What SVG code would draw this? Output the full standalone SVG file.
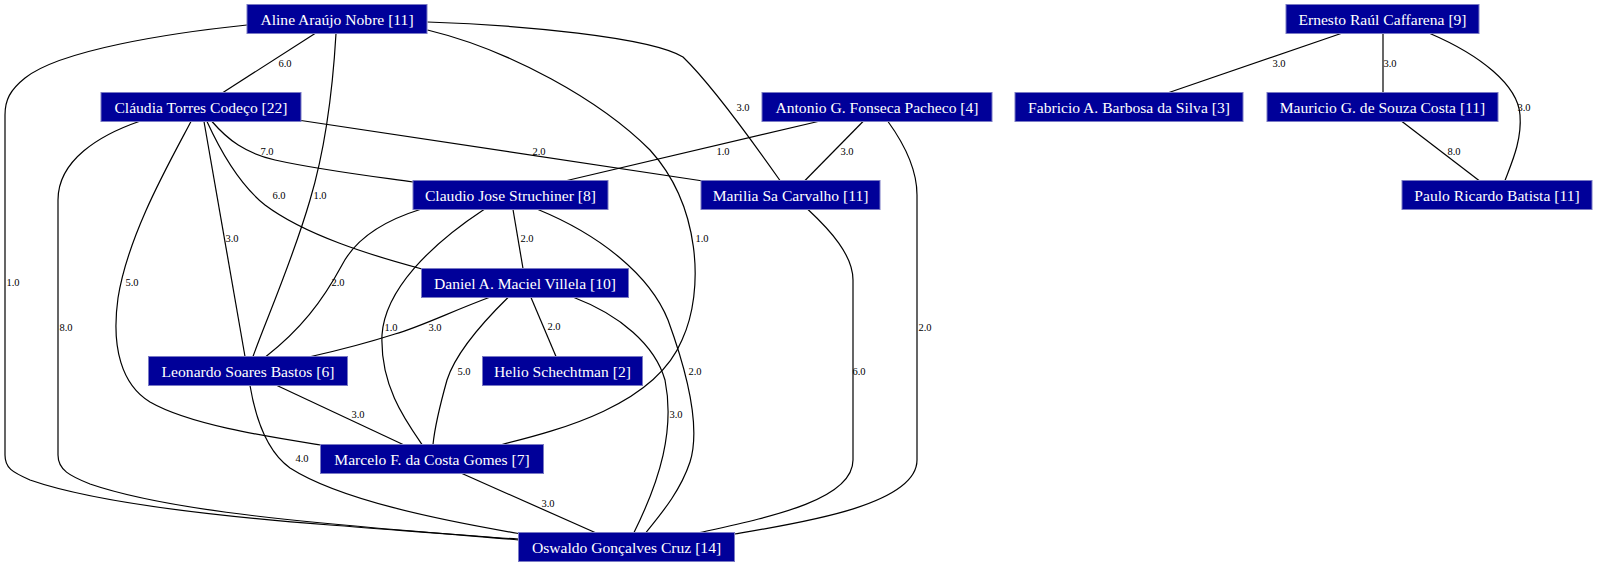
<svg xmlns="http://www.w3.org/2000/svg" width="1597" height="567" viewBox="0 0 1597 567">
<style>
.n rect{fill:#000099;stroke:#7a7ac4;stroke-width:1}
.n text{fill:#ffffff;font-family:"Liberation Serif","DejaVu Serif",serif;font-size:15.6px;text-anchor:middle}
.e path{fill:none;stroke:#000;stroke-width:1.2}
.e text{fill:#000;font-family:"Liberation Serif","DejaVu Serif",serif;font-size:10.5px;text-anchor:middle}
</style>
<rect width="1597" height="567" fill="#fff"/>
<g id="edges" class="e">
<path d="M315,33.5 L223,92.5"/><text x="285" y="67">6.0</text>
<path d="M336,33.5 C333,85 325,150 310,200 C292,262 266,320 253,356.5"/><text x="320" y="198.5">1.0</text>
<path d="M247,25 C170,33 60,50 25,78 C10,90 5,100 5,115 L5,455 C5,468 12,472 30,480 C90,501 200,515 330,525 C420,532 490,537 518.5,540"/><text x="13" y="286">1.0</text>
<path d="M427.5,22 C520,25 650,37 683,57 C712,85 755,145 780,180.5"/><text x="743" y="110.5">3.0</text>
<path d="M427.5,30 C510,50 600,100 650,150 C700,205 705,290 682,340 C655,405 560,430 502,444.5"/><text x="702" y="241.5">1.0</text>
<path d="M212,121.5 C228,140 245,153 275,160 C320,170 370,176 413,182"/><text x="267" y="154.5">7.0</text>
<path d="M301,120.5 L703,181"/><text x="539" y="154.5">2.0</text>
<path d="M207,121.5 C220,150 240,185 265,205 C305,235 370,255 422,269"/><text x="279" y="198.5">6.0</text>
<path d="M204,121.5 L245,356.5"/><text x="232" y="241.5">3.0</text>
<path d="M191,121.5 C168,165 128,235 118,298 C111,348 122,385 150,402 C190,425 270,437 320.5,445"/><text x="132" y="286">5.0</text>
<path d="M139,121.5 C100,135 58,160 58,200 L58,455 C58,470 70,476 90,484 C160,508 280,520 400,530 C460,535 500,538 518.5,539"/><text x="66" y="330.5">8.0</text>
<path d="M818,121.5 L567,180.5"/><text x="723" y="154.5">1.0</text>
<path d="M863,121.5 L805,180.5"/><text x="847" y="154.5">3.0</text>
<path d="M888,121.5 C905,145 917,170 917,195 L917,460 C917,505 800,523 734.5,534"/><text x="925" y="330.5">2.0</text>
<path d="M1341,33.5 L1169,92.5"/><text x="1279" y="66.5">3.0</text>
<path d="M1383,33.5 L1383,92.5"/><text x="1390" y="66.5">3.0</text>
<path d="M1430,33.5 C1480,55 1518,85 1520,115 C1522,140 1512,162 1505,180.5"/><text x="1524" y="110.5">3.0</text>
<path d="M1402,121.5 L1479,180.5"/><text x="1454" y="154.5">8.0</text>
<path d="M513,209.5 L523,268.5"/><text x="527" y="241.5">2.0</text>
<path d="M420,209.5 C380,222 355,240 342,265 C322,302 300,330 266,356.5"/><text x="338" y="286">2.0</text>
<path d="M484,209.5 C430,245 385,290 382,335 C380,385 405,420 422,444.5"/><text x="391" y="330.5">1.0</text>
<path d="M538,209.5 C600,235 650,275 668,320 C690,380 700,430 690,462 C680,492 660,515 646,532.5"/><text x="695" y="374.5">2.0</text>
<path d="M808,209.5 C830,230 853,255 853,280 L853,460 C853,500 770,517 700,532.5"/><text x="859" y="374.5">6.0</text>
<path d="M489,297.5 C450,312 420,327 395,334 C370,342 340,350 311,356.5"/><text x="435" y="330.5">3.0</text>
<path d="M531,297.5 L556,356.5"/><text x="554" y="330">2.0</text>
<path d="M508,297.5 C480,325 455,355 447,380 C440,405 435,425 433,444.5"/><text x="464" y="374.5">5.0</text>
<path d="M574,297.5 C620,315 655,345 665,380 C675,430 660,480 634,532.5"/><text x="676" y="417.5">3.0</text>
<path d="M277,385.5 L403,444.5"/><text x="358" y="417.5">3.0</text>
<path d="M250,385.5 C255,415 265,450 290,468 C340,500 440,520 518.5,533.5"/><text x="302" y="461.5">4.0</text>
<path d="M462,473.5 L595,532.5"/><text x="548" y="506.5">3.0</text>
</g>
<g id="aline" class="n"><rect x="247" y="4.5" width="180" height="29"/><text x="337" y="24.5">Aline Araújo Nobre [11]</text></g>
<g id="ernesto" class="n"><rect x="1286" y="4.5" width="193" height="29"/><text x="1382.5" y="24.5">Ernesto Raúl Caffarena [9]</text></g>
<g id="claudia" class="n"><rect x="101" y="92.5" width="200" height="29"/><text x="201" y="112.5">Cláudia Torres Codeço [22]</text></g>
<g id="antonio" class="n"><rect x="762" y="92.5" width="230" height="29"/><text x="877" y="112.5">Antonio G. Fonseca Pacheco [4]</text></g>
<g id="fabricio" class="n"><rect x="1015" y="92.5" width="228" height="29"/><text x="1129" y="112.5">Fabricio A. Barbosa da Silva [3]</text></g>
<g id="mauricio" class="n"><rect x="1267" y="92.5" width="231" height="29"/><text x="1382.5" y="112.5">Mauricio G. de Souza Costa [11]</text></g>
<g id="claudio" class="n"><rect x="413" y="180.5" width="195" height="29"/><text x="510.5" y="200.5">Claudio Jose Struchiner [8]</text></g>
<g id="marilia" class="n"><rect x="701" y="180.5" width="179" height="29"/><text x="790.5" y="200.5">Marilia Sa Carvalho [11]</text></g>
<g id="paulo" class="n"><rect x="1402" y="180.5" width="190" height="29"/><text x="1497" y="200.5">Paulo Ricardo Batista [11]</text></g>
<g id="daniel" class="n"><rect x="421.5" y="268.5" width="207" height="29"/><text x="525" y="288.5">Daniel A. Maciel Villela [10]</text></g>
<g id="leonardo" class="n"><rect x="148.5" y="356.5" width="199" height="29"/><text x="248" y="376.5">Leonardo Soares Bastos [6]</text></g>
<g id="helio" class="n"><rect x="482.5" y="356.5" width="160" height="29"/><text x="562.5" y="376.5">Helio Schechtman [2]</text></g>
<g id="marcelo" class="n"><rect x="320.5" y="444.5" width="223" height="29"/><text x="432" y="464.5">Marcelo F. da Costa Gomes [7]</text></g>
<g id="oswaldo" class="n"><rect x="518.5" y="532.5" width="216" height="29"/><text x="626.5" y="552.5">Oswaldo Gonçalves Cruz [14]</text></g>
</svg>
